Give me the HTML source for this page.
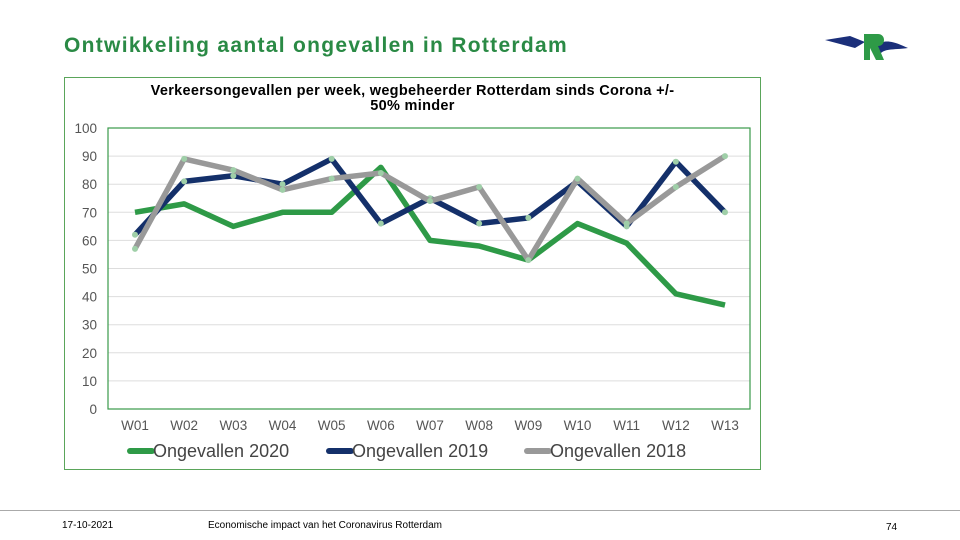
<!DOCTYPE html>
<html><head><meta charset="utf-8"><style>
body{margin:0;width:960px;height:540px;background:#fff;position:relative;overflow:hidden;font-family:"Liberation Sans",sans-serif}
.t{position:absolute;white-space:nowrap}
</style></head><body>
<div class="t" style="left:64px;top:34px;font-size:21px;font-weight:bold;letter-spacing:1.3px;color:#2a8a45">Ontwikkeling aantal ongevallen in Rotterdam</div>
<svg style="position:absolute;left:820px;top:28px" width="90" height="40">
<path d="M5 12 L30 8 L45 14 L35 20 L20 16 Z" fill="#1b2f7a"/>
<path d="M55 18 C65 10 75 14 88 20 C75 22 65 20 60 26 Z" fill="#1b2f7a"/>
<path d="M44 6 L58 6 C66 6 66 18 58 18 L64 32 L56 32 L50 20 L50 32 L44 32 Z" fill="#2e9a47"/>
</svg>
<div style="position:absolute;left:64px;top:77px;width:697px;height:393px;border:1px solid #5aa55a;box-sizing:border-box"></div>
<div class="t" style="left:64px;width:697px;top:84px;text-align:center;font-size:14.5px;letter-spacing:0.3px;font-weight:bold;line-height:15px;white-space:normal">Verkeersongevallen per week, wegbeheerder Rotterdam sinds Corona +/-<br>50% minder</div>
<svg id="c" width="960" height="540" style="position:absolute;left:0;top:0"></svg>
<div style="position:absolute;left:0;top:510px;width:960px;height:1px;background:#aaa"></div>
<div class="t" style="left:62px;top:520px;font-size:10px">17-10-2021</div>
<div class="t" style="left:208px;top:520px;font-size:10px">Economische impact van het Coronavirus Rotterdam</div>
<div class="t" style="left:886px;top:522px;font-size:10px">74</div>
<script>
const categories=["W01","W02","W03","W04","W05","W06","W07","W08","W09","W10","W11","W12","W13"];
const s2020=[70,73,65,70,70,86,60,58,53,66,59,41,37];
const s2019=[62,81,83,80,89,66,75,66,68,81,65,88,70];
const s2018=[57,89,85,78,82,84,74,79,53,82,66,79,90];
const yTicks=[0,10,20,30,40,50,60,70,80,90,100];
const names=["Ongevallen 2020","Ongevallen 2019","Ongevallen 2018"];
const svg=document.getElementById('c');const NS='http://www.w3.org/2000/svg';
const L=108,R=750,T=128,B=409;
const x=i=>135+i*(725-135)/(categories.length-1);
const y=v=>B-(v/100)*(B-T);
function mk(t,a){const e=document.createElementNS(NS,t);for(const k in a)e.setAttribute(k,a[k]);svg.appendChild(e);return e;}
yTicks.forEach(v=>{
 const g=mk('line',{x1:L,x2:R,y1:y(v),y2:y(v),stroke:'#ddd','stroke-width':1});
 
 
 const t=mk('text',{x:97,y:y(v)+5,'text-anchor':'end','font-size':13.5,fill:'#555','font-family':'Liberation Sans'});t.textContent=v;
 
 
});
const fr=mk('rect',{x:L,y:T,width:R-L,height:B-T,fill:'none',stroke:'#3a9a4a','stroke-width':1.2});


categories.forEach((c,i)=>{const t=mk('text',{x:x(i),y:430,'text-anchor':'middle','font-size':13.5,fill:'#555','font-family':'Liberation Sans'});t.textContent=c;
 
 });
const series=[[s2020,'#2e9a47',false],[s2019,'#14306a',true],[s2018,'#999',true]];
series.forEach((s,k)=>{
 const p=mk('polyline',{points:s[0].map((v,i)=>x(i)+','+y(v)).join(' '),fill:'none',stroke:s[1],'stroke-width':5.5,'stroke-linejoin':'round'});
 
 
 if(s[2])s[0].forEach((v,i)=>{const d=mk('circle',{cx:x(i),cy:y(v),r:3,fill:'#9fcfa8'});
 
 });
 const lx=[130,329,527][k];
 const ll=mk('line',{x1:lx,x2:lx+22,y1:451,y2:451,stroke:s[1],'stroke-width':6,'stroke-linecap':'round'});
 
 
 const lt=mk('text',{x:lx+23,y:457,'font-size':18,fill:'#444','font-family':'Liberation Sans'});lt.textContent=names[k];
 
 
});
</script>
</body></html>
